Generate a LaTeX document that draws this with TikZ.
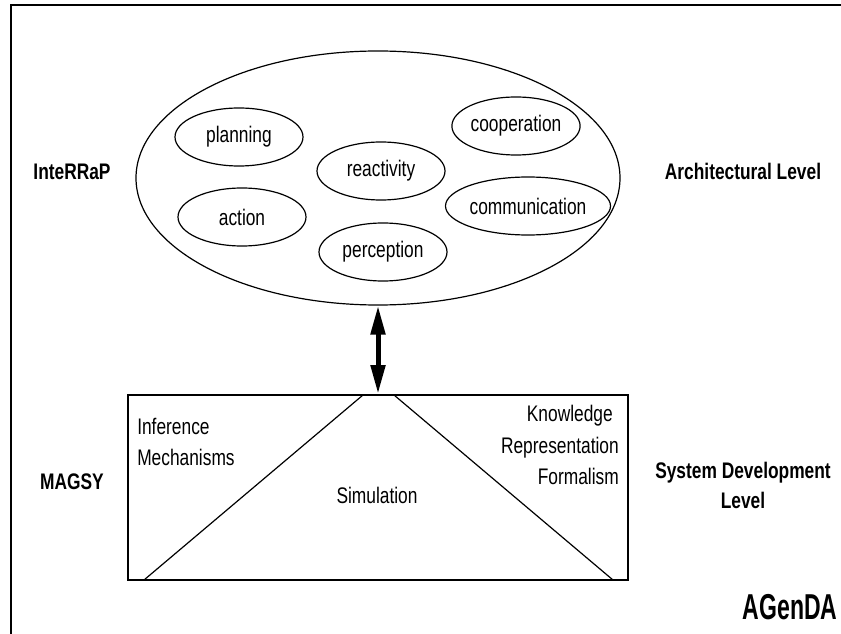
\documentclass[tikz,border=0pt]{standalone}
\usepackage{fontspec}
\setmainfont{Liberation Sans}[FakeStretch=0.77]
\newfontfamily\bigfont{Liberation Sans}[FakeStretch=0.64]
\usetikzlibrary{shapes.geometric, arrows.meta}

\begin{document}
\begin{tikzpicture}[x=0.75pt, y=-0.75pt, font=\fontsize{16.9}{23.5}\selectfont,
 part node/.style={ellipse,draw,line width=0.9pt,minimum height=43.5pt,inner sep=0pt},
 level node/.style={font=\fontsize{16.9}{22.5}\selectfont\bfseries},
 link/.style={{Triangle[length=21.75pt,width=10.5pt]}-{Triangle[length=21.75pt,width=10.5pt]},line width=3.75pt}]
  \useasboundingbox (0,0) rectangle (841,634);
  \draw[line width=1.5pt] (841,5) -- (11,5) -- (11,634);

  \node[ellipse,draw,line width=0.9pt,minimum width=363pt,minimum height=190.5pt] (interrap) at (378,178) {};
  \foreach \n/\x/\y/\w in {planning/239/137/96pt, reactivity/381/171/96pt, cooperation/516/126/96pt,
   action/242/217/96pt, communication/528/206/100.5pt, perception/383/252/96pt} {
   \node[part node, minimum width=\w] (\n) at (\x,\y) {\n};}

  \node[draw,line width=1.5pt,minimum width=375pt,minimum height=138.75pt,inner sep=0pt] (magsy) at (378,487.5) {};
  \draw[line width=0.9pt] (144,580) -- (363,395);
  \draw[line width=0.9pt] (394,395) -- (613,580);
  \draw[link] (interrap.south) -- (magsy.north);

  \node[anchor=east,align=right,inner sep=0pt] (knowledge) at (619,445) {Knowledge\kern4.5pt\mbox{}\\Representation\\Formalism};
  \node[anchor=west,align=left,inner sep=0pt] (inference) at (137,442) {Inference\\Mechanisms};
  \node (simulation) at (377,495) {Simulation};

  \node[level node] (agentLabel) at (72,172) {InteRRaP};
  \node[level node] (archLabel) at (743,171) {Architectural Level};
  \node[level node] (systemLabel) at (72,482) {MAGSY};
  \node[level node,align=center] (devLabel) at (743,485) {System Development\\Level};
  \node[font=\bigfont\fontsize{27}{32}\selectfont\bfseries] (agenda) at (790,607) {AGenDA};
\end{tikzpicture}
\end{document}
